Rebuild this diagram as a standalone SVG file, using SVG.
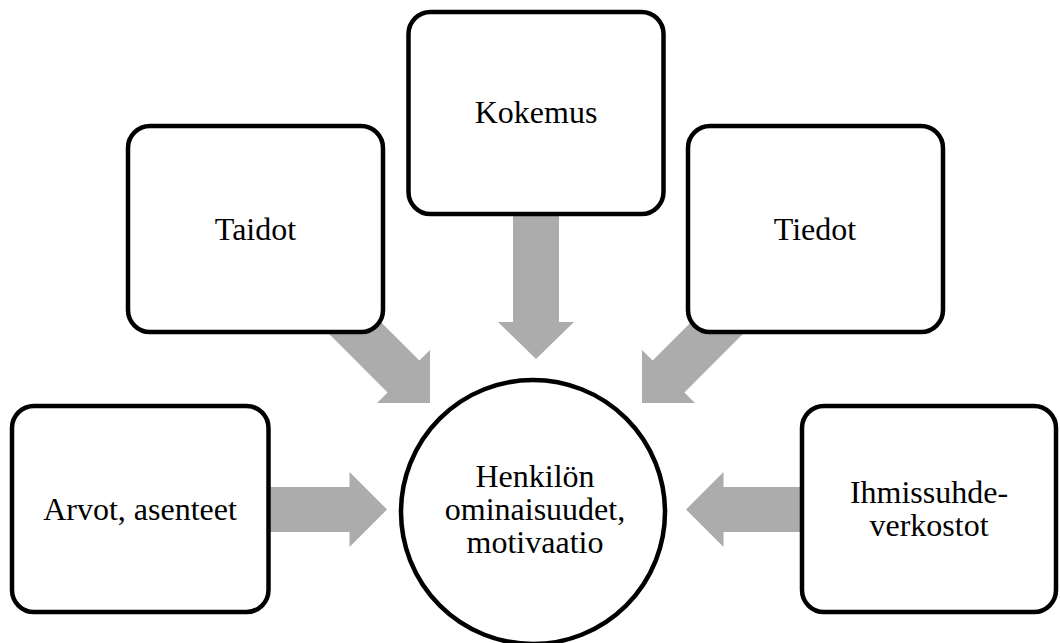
<svg xmlns="http://www.w3.org/2000/svg" width="1060" height="643" viewBox="0 0 1060 643">
<defs>
<style>
.box{fill:#fff;stroke:#000;stroke-width:4.5}
.arr{fill:#acacac}
.t{font-family:"Liberation Serif","Times New Roman",serif;font-size:32px;fill:#000;text-anchor:middle}
</style>
</defs>
<rect width="1060" height="643" fill="#fff"/>
<g id="connectors">
<polygon class="arr" transform="translate(387,509.5)" points="-130,-22.5 -37.5,-22.5 -37.5,-37.5 0,0 -37.5,37.5 -37.5,22.5 -130,22.5"/>
<polygon class="arr" transform="translate(686,509.5) rotate(180)" points="-130,-22.5 -37.5,-22.5 -37.5,-37.5 0,0 -37.5,37.5 -37.5,22.5 -130,22.5"/>
<polygon class="arr" transform="translate(536,359) rotate(90)" points="-155,-23 -37,-23 -37,-38 0,0 -37,38 -37,23 -155,23"/>
<polygon class="arr" transform="translate(430,403) rotate(45)" points="-135,-22.5 -37.5,-22.5 -37.5,-37.5 0,0 -37.5,37.5 -37.5,22.5 -135,22.5"/>
<polygon class="arr" transform="translate(642,403) rotate(135)" points="-135,-22.5 -37.5,-22.5 -37.5,-37.5 0,0 -37.5,37.5 -37.5,22.5 -135,22.5"/>
</g>
<g id="kokemus">
<rect class="box" x="408.5" y="12" width="255" height="202" rx="22"/>
<text class="t" x="536" y="123">Kokemus</text>
</g>
<g id="taidot">
<rect class="box" x="128" y="126" width="255" height="206" rx="22"/>
<text class="t" x="255.5" y="240">Taidot</text>
</g>
<g id="tiedot">
<rect class="box" x="688" y="126" width="255" height="206" rx="22"/>
<text class="t" x="815" y="240">Tiedot</text>
</g>
<g id="arvot">
<rect class="box" x="12" y="406" width="256.5" height="206" rx="22"/>
<text class="t" x="140" y="520">Arvot, asenteet</text>
</g>
<g id="ihmissuhde">
<rect class="box" x="802" y="406" width="254" height="206" rx="22"/>
<text class="t" x="929" y="503">Ihmissuhde-</text>
<text class="t" x="929" y="536">verkostot</text>
</g>
<g id="henkilo">
<circle class="box" cx="533" cy="512" r="132"/>
<text class="t" x="535" y="487">Henkilön</text>
<text class="t" x="535" y="520">ominaisuudet,</text>
<text class="t" x="535" y="553">motivaatio</text>
</g>
</svg>
